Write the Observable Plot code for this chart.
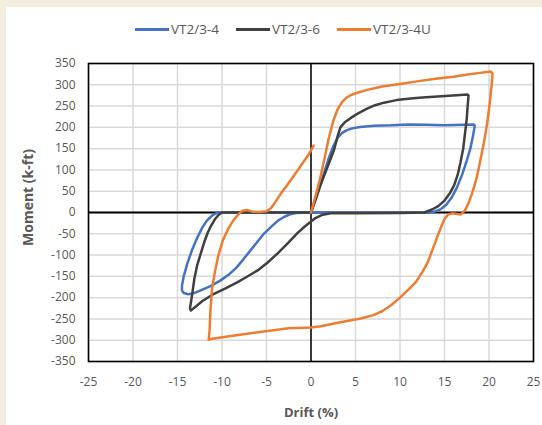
<!DOCTYPE html>
<html>
<head>
<meta charset="utf-8">
<script src="https://cdn.jsdelivr.net/npm/d3@7"></script>
<script src="https://cdn.jsdelivr.net/npm/@observablehq/plot@0.6"></script>
<style>
  html, body { margin: 0; padding: 0; }
  body { width: 542px; height: 425px; background: #F4EEDF; position: relative; overflow: hidden; font-family: "Open Sans", sans-serif; }
  #panel { position: absolute; left: 6px; top: 7px; width: 536px; height: 418px; background: #fff; }
  #legend { position: absolute; left: 0; top: 0; width: 536px; height: 40px; }
  .item { position: absolute; top: 13px; height: 18px; display: flex; align-items: center; font-size: 13.5px; color: #595959; }
  .swatch { width: 34px; height: 3px; margin-right: 2px; }
  #chart { position: absolute; left: 0; top: 40px; }
</style>
</head>
<body>
<div id="panel">
  <div id="legend"></div>
  <div id="chart"></div>
</div>
<script>
// ---- data (drift %, moment k-ft) ----
const seriesNames = ["VT2/3-4", "VT2/3-6", "VT2/3-4U"];
const seriesColors = ["#4472C4", "#404040", "#ED7D31"];

const vt4Drift  = [0, 0.5, 1, 1.5, 2, 2.5, 3, 3.5, 4, 4.5, 5.5, 7.1, 9, 11, 13, 15, 17, 18.3, 18.4, 18.2, 17.9, 17.5, 17.0, 16.4, 15.8, 15.2, 14.6, 14, 13.4, 10, 5, 0, -1.7, -2.3, -3, -3.7, -4.4, -5.3, -6, -6.8, -7.6, -8.4, -9.3, -10.2, -11.3, -12.4, -13.2, -13.8, -14.3, -14.5, -14.5, -14.3, -13.9, -13.4, -12.8, -12.2, -11.7, -11.1, -10.5, -5, 0];
const vt4Moment = [0, 30, 62, 95, 128, 155, 176, 187, 193, 197, 201, 204, 205, 207, 206, 205, 206, 207, 204, 180, 150, 122, 90, 59, 35, 18, 8, 3, 0, 0, 0, 0, -1, -4, -10, -19, -32, -50, -68, -89, -110, -130, -147, -160, -173, -183, -190, -192, -189, -183, -172, -150, -120, -90, -60, -35, -19, -7, 0, 0, 0];

const vt6Drift  = [0, 0.5, 1, 1.5, 2, 2.6, 3.0, 3.3, 3.8, 4.4, 5.3, 6.3, 7.2, 8.2, 9.6, 11.2, 12.5, 13.8, 15.5, 17.6, 17.7, 17.6, 17.5, 17.3, 17.1, 16.8, 16.5, 16.1, 15.6, 15.0, 14.3, 13.6, 13.1, 12.7, 10, 5, 2.2, 1.2, 0.5, 0, -0.7, -1.5, -2.6, -3.8, -4.9, -6, -7.2, -8.3, -9.6, -10.9, -12.2, -13, -13.5, -13.6, -13.5, -13.3, -13.1, -12.8, -12.4, -12.0, -11.6, -11.2, -10.8, -10.4, -10, -5, 0];
const vt6Moment = [0, 30, 60, 88, 115, 148, 180, 200, 212, 221, 233, 244, 252, 258, 264, 268, 270, 272, 274, 277, 275, 250, 220, 185, 150, 118, 90, 65, 45, 28, 15, 7, 3, 0, -1, -2, -2, -6, -13, -21, -33, -48, -72, -97, -118, -136, -151, -164, -178, -191, -208, -222, -230, -225, -212, -185, -155, -125, -97, -70, -47, -30, -16, -6, 0, 0, 0];

const vt4uDrift  = [0, 0.5, 1, 1.5, 2, 2.5, 3, 3.5, 4, 4.5, 5.3, 6.3, 8, 10, 11.9, 14, 16, 17.6, 19, 20.2, 20.4, 20.3, 20.1, 19.8, 19.4, 19.0, 18.6, 18.1, 17.7, 17.3, 16.8, 16.3, 15.8, 15.4, 15.0, 14.6, 14.1, 13.6, 13.1, 12.5, 11.8, 11, 10, 9, 8, 7, 5.6, 3.3, 1.1, 0, -2.5, -5.5, -8, -11.3, -11.5, -11.4, -11.3, -11.1, -10.8, -10.4, -9.9, -9.3, -8.7, -8.1, -7.7, -7.2, -6.6, -5.8, -5.0, -4.5, -4.0, -3.4, -2.3, -1.3, -0.3, 0.3];
const vt4uMoment = [0, 38, 78, 125, 175, 215, 243, 260, 270, 276, 282, 288, 296, 302, 308, 314, 319, 324, 328, 331, 326, 300, 260, 210, 161, 120, 80, 45, 22, 5, -5, -3, -2, -5, -15, -35, -62, -90, -118, -140, -163, -180, -200, -218, -232, -241, -249, -258, -267, -270, -272, -280, -287, -297, -299, -277, -230, -175, -140, -100, -65, -38, -18, -3, 4, 6, 2, 1, 3, 10, 25, 44, 75, 105, 135, 157];

const xTicks = [-25, -20, -15, -10, -5, 0, 5, 10, 15, 20, 25];
const yTicks = [-350, -300, -250, -200, -150, -100, -50, 0, 50, 100, 150, 200, 250, 300, 350];

// ---- build tables ----
const toRows = (xs, ys, s) => xs.map((x, i) => ({drift: x, moment: ys[i], series: s}));
const rows = [
  ...toRows(vt4Drift, vt4Moment, seriesNames[0]),
  ...toRows(vt6Drift, vt6Moment, seriesNames[1]),
  ...toRows(vt4uDrift, vt4uMoment, seriesNames[2])
];

// ---- legend ----
const legend = document.getElementById("legend");
const legendLeft = [129, 230, 331];
seriesNames.forEach((n, i) => {
  const it = document.createElement("div");
  it.className = "item";
  it.style.left = legendLeft[i] + "px";
  it.innerHTML = `<span class="swatch" style="background:${seriesColors[i]}"></span><span>${n}</span>`;
  legend.appendChild(it);
});

const fmt = d => String(d);
const chart = Plot.plot({
  width: 536,
  height: 378,
  marginLeft: 82,
  marginRight: 9,
  marginTop: 16,
  marginBottom: 64,
  style: {fontFamily: "'Open Sans', sans-serif", fontSize: "12px", color: "#595959", background: "transparent"},
  x: {domain: [-25, 25]},
  y: {domain: [-350, 350]},
  color: {domain: seriesNames, range: seriesColors},
  marks: [
    Plot.gridX(xTicks, {stroke: "#d9d9d9", strokeOpacity: 1, strokeWidth: 1.5}),
    Plot.gridY(yTicks, {stroke: "#d9d9d9", strokeOpacity: 1, strokeWidth: 1.5}),
    Plot.ruleX([0], {stroke: "#000", strokeWidth: 1.5}),
    Plot.ruleY([0], {stroke: "#000", strokeWidth: 2}),
    Plot.frame({stroke: "#000", strokeWidth: 1.6}),
    Plot.axisX(xTicks, {tickSize: 0, tickPadding: 16, tickFormat: fmt, label: null, fill: "#595959"}),
    Plot.axisY(yTicks, {tickSize: 0, tickPadding: 13, tickFormat: fmt, label: null, fill: "#595959"}),
    Plot.line(rows, {x: "drift", y: "moment", z: "series", stroke: "series", strokeWidth: 2.5, curve: "linear", strokeLinejoin: "round", strokeLinecap: "round"}),
    Plot.text(["Drift (%)"], {frameAnchor: "bottom", lineAnchor: "middle", textAnchor: "middle", dy: 51, fontWeight: "bold", fontSize: 13, fill: "#595959"}),
    Plot.text(["Moment (k-ft)"], {frameAnchor: "left", lineAnchor: "middle", textAnchor: "middle", dx: -60, dy: -15, rotate: -90, fontWeight: "bold", fontSize: 14, fill: "#595959"})
  ]
});
document.getElementById("chart").appendChild(chart);
</script>
</body>
</html>
